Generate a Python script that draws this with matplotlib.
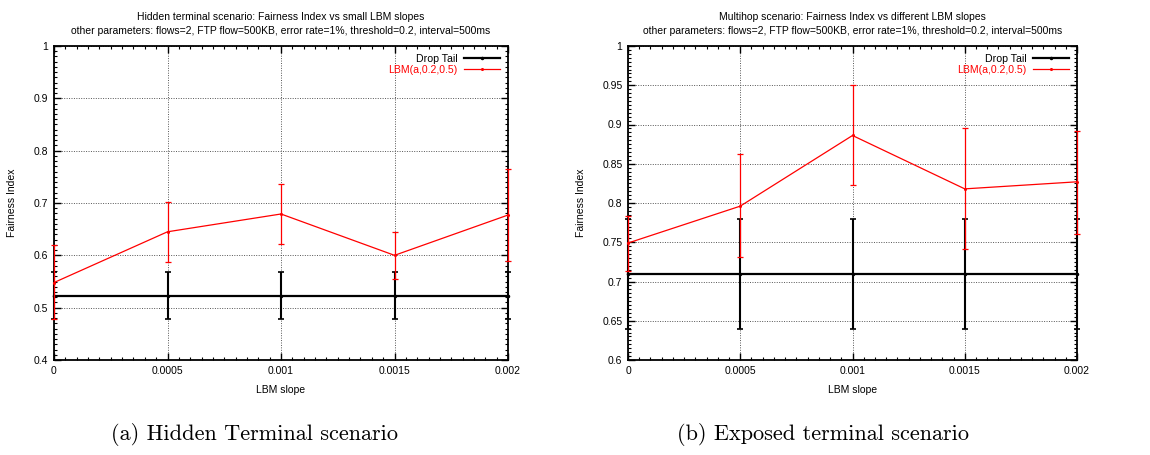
import matplotlib
matplotlib.use("Agg")
import matplotlib.pyplot as plt
from matplotlib.lines import Line2D
from matplotlib.ticker import MultipleLocator, FixedLocator

plt.rcParams['font.family'] = ['Liberation Sans', 'DejaVu Sans']

slopes = [0, 0.0005, 0.001, 0.0015, 0.002]
x_ticklabels = ["0", "0.0005", "0.001", "0.0015", "0.002"]

# hidden terminal scenario
hidden_drop = [0.522, 0.522, 0.522, 0.522, 0.522]
hidden_drop_lo = [0.478, 0.478, 0.478, 0.478, 0.478]
hidden_drop_hi = [0.568, 0.568, 0.568, 0.568, 0.568]
hidden_lbm = [0.548, 0.645, 0.679, 0.600, 0.677]
hidden_lbm_lo = [0.478, 0.588, 0.622, 0.555, 0.590]
hidden_lbm_hi = [0.620, 0.702, 0.736, 0.645, 0.765]

# multihop / exposed terminal scenario
multi_drop = [0.709, 0.709, 0.709, 0.709, 0.709]
multi_drop_lo = [0.639, 0.639, 0.639, 0.639, 0.639]
multi_drop_hi = [0.779, 0.779, 0.779, 0.779, 0.779]
multi_lbm = [0.749, 0.796, 0.886, 0.818, 0.827]
multi_lbm_lo = [0.714, 0.731, 0.823, 0.741, 0.761]
multi_lbm_hi = [0.783, 0.862, 0.950, 0.895, 0.892]

subtitle = "other parameters: flows=2, FTP flow=500KB, error rate=1%, threshold=0.2, interval=500ms"

panels = [
    {
        "title": "Hidden terminal scenario: Fairness Index vs small LBM slopes",
        "caption": "(a) Hidden Terminal scenario",
        "drop": (hidden_drop, hidden_drop_lo, hidden_drop_hi),
        "lbm": (hidden_lbm, hidden_lbm_lo, hidden_lbm_hi),
        "ylim": (0.4, 1.0),
        "yticks": [0.4, 0.5, 0.6, 0.7, 0.8, 0.9, 1.0],
        "ylabels": ["0.4", "0.5", "0.6", "0.7", "0.8", "0.9", "1"],
        "yminor": 0.01,
        "rect": [54 / 1150, 1 - 360 / 455, 454 / 1150, 314 / 455],
        "capx": 254,
    },
    {
        "title": "Multihop scenario: Fairness Index vs different LBM slopes",
        "caption": "(b) Exposed terminal scenario",
        "drop": (multi_drop, multi_drop_lo, multi_drop_hi),
        "lbm": (multi_lbm, multi_lbm_lo, multi_lbm_hi),
        "ylim": (0.6, 1.0),
        "yticks": [0.6, 0.65, 0.7, 0.75, 0.8, 0.85, 0.9, 0.95, 1.0],
        "ylabels": ["0.6", "0.65", "0.7", "0.75", "0.8", "0.85", "0.9", "0.95", "1"],
        "yminor": 0.005,
        "rect": [628 / 1150, 1 - 360 / 455, 449 / 1150, 314 / 455],
        "capx": 823,
    },
]

fig = plt.figure(figsize=(11.5, 4.55), dpi=100)

for p in panels:
    ax = fig.add_axes(p["rect"])
    d, dlo, dhi = p["drop"]
    l, llo, lhi = p["lbm"]
    derr = [[v - lo for v, lo in zip(d, dlo)], [hi - v for v, hi in zip(d, dhi)]]
    lerr = [[v - lo for v, lo in zip(l, llo)], [hi - v for v, hi in zip(l, lhi)]]

    ax.errorbar(slopes, d, yerr=derr, color="black", lw=1.6, elinewidth=1.5,
                capsize=2.2, capthick=1.2, marker="o", ms=1.5,
                zorder=3, clip_on=False)
    ax.errorbar(slopes, l, yerr=lerr, color="red", lw=0.9, elinewidth=0.9,
                capsize=2.2, capthick=0.9, marker="o", ms=1.2,
                zorder=4, clip_on=False)

    ax.set_xlim(0, 0.002)
    ax.set_ylim(*p["ylim"])
    ax.xaxis.set_major_locator(FixedLocator(slopes))
    ax.set_xticklabels(x_ticklabels)
    ax.xaxis.set_minor_locator(MultipleLocator(0.00005))
    ax.yaxis.set_major_locator(FixedLocator(p["yticks"]))
    ax.set_yticklabels(p["ylabels"])
    ax.yaxis.set_minor_locator(MultipleLocator(p["yminor"]))

    ax.tick_params(which="both", direction="in", top=True, right=True,
                   labelsize=7.5, colors="black", pad=4)
    ax.tick_params(which="major", length=5, width=1)
    ax.tick_params(which="minor", length=2.5, width=0.8)
    for s in ax.spines.values():
        s.set_linewidth(1.3)

    ax.grid(True, which="major", color="#555555", ls=(0, (1, 1.5)), lw=0.7)

    ax.set_xlabel("LBM slope", fontsize=7.5, labelpad=7)
    ax.set_ylabel("Fairness Index", fontsize=7.5, labelpad=12)

    handles = [
        Line2D([], [], color="black", lw=1.6, marker="o", ms=1.5),
        Line2D([], [], color="red", lw=0.9, marker="o", ms=1.2),
    ]
    leg = ax.legend(handles, ["Drop Tail", "LBM(a,0.2,0.5)"], loc="upper right",
                    frameon=False, markerfirst=False, fontsize=7.6,
                    handlelength=3.4, borderaxespad=0.35, labelspacing=0.1,
                    handletextpad=0.6)
    for txt, c in zip(leg.get_texts(), ["black", "red"]):
        txt.set_color(c)

    cx = p["rect"][0] + p["rect"][2] / 2
    fig.text(cx, 1 - 17 / 455, p["title"], ha="center", va="center", fontsize=7.5)
    fig.text(cx, 1 - 31 / 455, subtitle, ha="center", va="center", fontsize=7.5)
    fig.text(p["capx"] / 1150, 1 - 434 / 455, p["caption"], ha="center", va="center",
             fontsize=16, family="cmr10")

fig.savefig("out.png", dpi=100)
